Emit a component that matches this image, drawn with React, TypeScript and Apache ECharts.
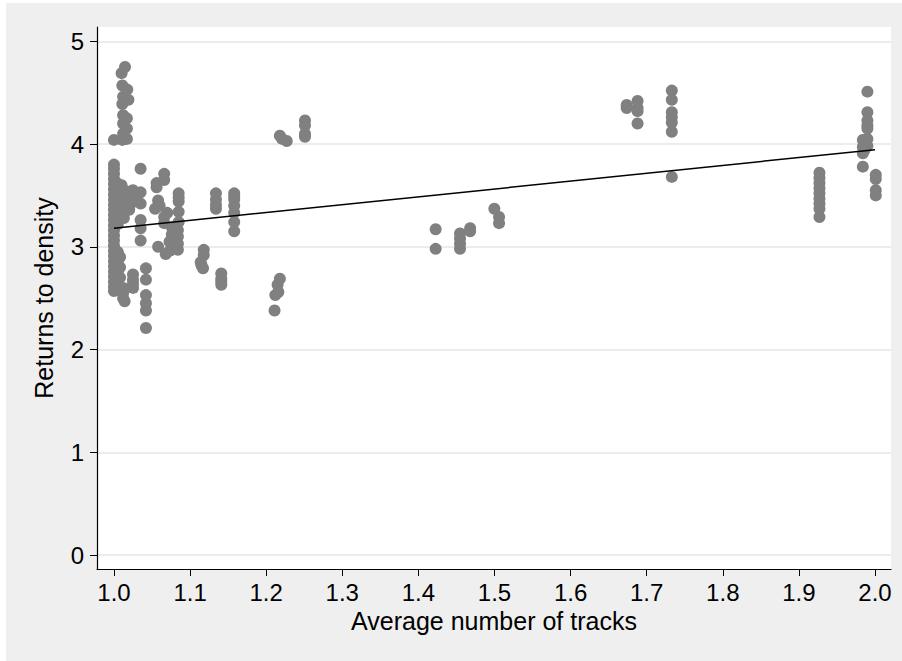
import React, { useEffect, useRef } from "react";
import * as echarts from "echarts";

// Average number of tracks (x) and Returns to density (y)
const nearOnePoints: [number, number][] = [
  [1.0, 4.04], [1.0, 3.8], [1.0, 3.76], [1.0, 3.71], [1.0, 3.66], [1.0, 3.61], [1.0, 3.56],
  [1.0, 3.51], [1.0, 3.46], [1.0, 3.41], [1.0, 3.36], [1.0, 3.31], [1.0, 3.26], [1.0, 3.21],
  [1.0, 3.16], [1.0, 3.11], [1.0, 3.06], [1.0, 3.01], [1.0, 2.96], [1.0, 2.91], [1.0, 2.86],
  [1.0, 2.81], [1.0, 2.76], [1.0, 2.71], [1.0, 2.66], [1.0, 2.61], [1.0, 2.57],
  [1.005, 3.52], [1.005, 3.38], [1.005, 3.22], [1.005, 2.95], [1.005, 2.85], [1.005, 2.75],
  [1.005, 2.68], [1.005, 2.62], [1.005, 2.58], [1.008, 2.9], [1.008, 2.8], [1.008, 2.7],
  [1.0145, 4.75], [1.01, 4.69], [1.011, 4.57], [1.0175, 4.53], [1.012, 4.46], [1.019, 4.43],
  [1.011, 4.39], [1.012, 4.28], [1.017, 4.25], [1.012, 4.2], [1.017, 4.15], [1.012, 4.1],
  [1.017, 4.05], [1.011, 4.04],
  [1.008, 3.55], [1.012, 3.5], [1.016, 3.54], [1.02, 3.48], [1.024, 3.52], [1.01, 3.44],
  [1.015, 3.4], [1.02, 3.36], [1.025, 3.55], [1.008, 3.33], [1.013, 3.28], [1.018, 3.45],
  [1.022, 3.42], [1.012, 3.38], [1.028, 3.5], [1.01, 3.6], [1.004, 3.62],
  [1.012, 2.6], [1.012, 2.55], [1.012, 2.5], [1.014, 2.47],
  [1.025, 2.73], [1.025, 2.68], [1.025, 2.64], [1.025, 2.6],
];

const lowTrackPoints: [number, number][] = [
  [1.035, 3.76], [1.035, 3.53], [1.035, 3.42], [1.035, 3.26], [1.035, 3.18], [1.035, 3.06],
  [1.042, 2.79], [1.042, 2.68], [1.042, 2.53], [1.042, 2.45], [1.042, 2.38], [1.042, 2.21],
  [1.066, 3.71], [1.066, 3.65], [1.056, 3.62], [1.056, 3.58], [1.058, 3.45], [1.054, 3.37],
  [1.06, 3.4], [1.066, 3.29], [1.066, 3.23], [1.058, 3.0], [1.068, 2.93], [1.073, 2.96],
  [1.07, 3.33], [1.076, 3.19], [1.076, 3.12], [1.073, 3.05],
  [1.085, 3.52], [1.085, 3.48], [1.085, 3.44], [1.085, 3.34], [1.085, 3.24], [1.084, 3.16],
  [1.084, 3.1], [1.084, 3.03], [1.084, 2.97],
  [1.118, 2.97], [1.118, 2.92], [1.115, 2.82], [1.117, 2.79], [1.114, 2.85],
  [1.134, 3.52], [1.134, 3.46], [1.134, 3.37], [1.134, 3.41],
  [1.141, 2.74], [1.141, 2.69], [1.141, 2.63], [1.141, 2.66],
  [1.158, 3.52], [1.158, 3.46], [1.158, 3.4], [1.158, 3.33], [1.158, 3.24], [1.158, 3.15],
  [1.158, 3.49],
  [1.218, 2.69], [1.215, 2.63], [1.212, 2.53], [1.216, 2.56], [1.211, 2.38],
  [1.218, 4.08], [1.221, 4.05], [1.227, 4.03],
  [1.251, 4.23], [1.251, 4.18], [1.251, 4.1], [1.251, 4.07],
];

const midTrackPoints: [number, number][] = [
  [1.4227, 3.17], [1.4227, 2.98], [1.4547, 3.13], [1.4547, 3.08], [1.4547, 3.03],
  [1.4547, 2.98], [1.468, 3.18], [1.468, 3.15], [1.4998, 3.37], [1.506, 3.29], [1.506, 3.23],
  [1.6737, 4.38], [1.6737, 4.35], [1.688, 4.42], [1.688, 4.35], [1.688, 4.32], [1.688, 4.2],
  [1.733, 4.52], [1.733, 4.43], [1.733, 4.31], [1.733, 4.26], [1.733, 4.21], [1.733, 4.12],
  [1.733, 3.68],
];

const highTrackPoints: [number, number][] = [
  [1.927, 3.72], [1.927, 3.67], [1.927, 3.62], [1.927, 3.57], [1.927, 3.52], [1.927, 3.47],
  [1.927, 3.42], [1.927, 3.37], [1.927, 3.29],
  [1.99, 4.51], [1.99, 4.31], [1.99, 4.23], [1.99, 4.18], [1.99, 4.15], [1.99, 4.05],
  [1.984, 4.04], [1.984, 3.97], [1.984, 3.91], [1.984, 3.78], [1.988, 4.0], [1.986, 3.94],
  [1.99, 3.98],
  [2.001, 3.7], [2.001, 3.66], [2.001, 3.55], [2.001, 3.5],
];

const fitLine: [number, number][] = [
  [1.0, 3.18],
  [2.0, 3.945],
];

const xTicks = [1.0, 1.1, 1.2, 1.3, 1.4, 1.5, 1.6, 1.7, 1.8, 1.9, 2.0];
const yTicks = [0, 1, 2, 3, 4, 5];

const FONT = "'Liberation Sans', Arial, Helvetica, sans-serif";

export default function App() {
  const ref = useRef<HTMLDivElement>(null);
  useEffect(() => {
    if (!ref.current) return;
    const chart = echarts.init(ref.current, null, { renderer: "svg" });
    const allPoints = [...nearOnePoints, ...lowTrackPoints, ...midTrackPoints, ...highTrackPoints];
    chart.setOption({
      animation: false,
      backgroundColor: "#EFEFEF",
      grid: {
        left: 91,
        right: 11,
        top: 24,
        bottom: 92,
        show: true,
        backgroundColor: "#ffffff",
        borderWidth: 0,
      },
      xAxis: {
        type: "value",
        min: 0.9777,
        max: 2.021,
        name: "Average number of tracks",
        nameLocation: "middle",
        nameGap: 37,
        nameTextStyle: { color: "#000", fontSize: 25, fontFamily: FONT },
        axisLine: { show: true, onZero: false, lineStyle: { color: "#000", width: 1.2 } },
        axisTick: {
          show: true,
          length: 7,
          customValues: xTicks,
          lineStyle: { color: "#000", width: 1 },
        },
        axisLabel: {
          customValues: xTicks,
          margin: 11,
          color: "#000",
          fontSize: 24,
          fontFamily: FONT,
          formatter: (v: number) => v.toFixed(1),
        },
        splitLine: { show: false },
      },
      yAxis: {
        type: "value",
        min: -0.136,
        max: 5.139,
        name: "Returns to density",
        nameLocation: "middle",
        nameGap: 41,
        nameTextStyle: { color: "#000", fontSize: 25, fontFamily: FONT },
        axisLine: { show: true, onZero: false, lineStyle: { color: "#000", width: 1.2 } },
        axisTick: {
          show: true,
          length: 7,
          customValues: yTicks,
          lineStyle: { color: "#000", width: 1 },
        },
        axisLabel: {
          customValues: yTicks,
          margin: 13,
          color: "#000",
          fontSize: 24,
          fontFamily: FONT,
        },
        splitLine: { show: true, lineStyle: { color: "#E6E6E6", width: 1.5 } },
      },
      series: [
        {
          type: "scatter",
          data: allPoints,
          symbol: "circle",
          symbolSize: 12,
          itemStyle: { color: "#808080", opacity: 1 },
          silent: true,
        },
        {
          type: "line",
          data: fitLine,
          showSymbol: false,
          symbol: "none",
          lineStyle: { color: "#000", width: 1.5 },
          silent: true,
          z: 5,
        },
      ],
    });
    return () => chart.dispose();
  }, []);
  return (
    <div style={{ position: "fixed", left: 0, top: 0, width: 902, height: 661, background: "#fff" }}>
      <div ref={ref} style={{ position: "absolute", left: 6, top: 3, width: 896, height: 658 }} />
    </div>
  );
}
